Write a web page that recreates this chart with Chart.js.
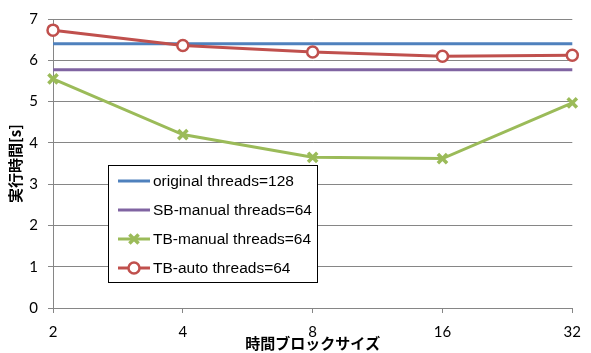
<!DOCTYPE html>
<html>
<head>
<meta charset="utf-8">
<script src="https://cdn.jsdelivr.net/npm/chart.js@4/dist/chart.umd.min.js"></script>
<style>
html,body{margin:0;padding:0;background:#fff;}
#wrap{width:591px;height:353px;position:relative;}
</style>
</head>
<body>
<div id="wrap"><canvas id="c" width="591" height="353"></canvas></div>
<script>
const categories = ['2', '4', '8', '16', '32'];
const originalThreads128 = [6.40, 6.40, 6.40, 6.40, 6.40];
const sbManualThreads64 = [5.77, 5.77, 5.77, 5.77, 5.77];
const tbManualThreads64 = [5.55, 4.20, 3.65, 3.62, 4.97];
const tbAutoThreads64 = [6.73, 6.36, 6.20, 6.10, 6.12];
const yTicks = [0, 1, 2, 3, 4, 5, 6, 7];

const FONT = 'Lato, "Open Sans", sans-serif';
const LFONT = '"Liberation Sans", Arial, sans-serif';
const JFONT = '"Noto Sans CJK JP", sans-serif';

const boxLegend = {
  id: 'boxLegend',
  afterDraw(chart, args, opts) {
    const ctx = chart.ctx;
    const x = opts.x, y = opts.y, w = opts.w, h = opts.h;
    ctx.save();
    ctx.fillStyle = '#fff';
    ctx.fillRect(x, y, w, h);
    ctx.strokeStyle = '#000';
    ctx.lineWidth = 1;
    ctx.strokeRect(x + 0.5, y + 0.5, w, h);
    chart.data.datasets.forEach((ds, i) => {
      const cy = y + opts.firstRow + i * opts.rowGap;
      const lx0 = x + opts.sampleLeft, lx1 = lx0 + opts.sampleLen;
      ctx.strokeStyle = ds.borderColor;
      ctx.lineWidth = ds.borderWidth;
      ctx.beginPath();
      ctx.moveTo(lx0, cy);
      ctx.lineTo(lx1, cy);
      ctx.stroke();
      if (ds.pointRadius > 0) {
        ctx.fillStyle = ds.pointBackgroundColor;
        ctx.strokeStyle = ds.pointBorderColor;
        ctx.lineWidth = ds.pointBorderWidth;
        Chart.helpers.drawPoint(ctx, {
          pointStyle: ds.pointStyle,
          radius: ds.pointRadius,
          borderWidth: ds.pointBorderWidth,
          rotation: 0
        }, (lx0 + lx1) / 2, cy);
      }
      ctx.fillStyle = '#000';
      ctx.font = opts.font;
      ctx.textBaseline = 'middle';
      ctx.textAlign = 'left';
      ctx.fillText(ds.label, lx1 + 3, cy + 1);
    });
    ctx.restore();
  }
};

new Chart(document.getElementById('c'), {
  type: 'line',
  data: {
    labels: categories,
    datasets: [
      { label: 'original threads=128', data: originalThreads128, borderColor: '#4F81BD', backgroundColor: '#4F81BD',
        borderWidth: 3, pointRadius: 0, order: 4 },
      { label: 'SB-manual threads=64', data: sbManualThreads64, borderColor: '#8064A2', backgroundColor: '#8064A2',
        borderWidth: 3, pointRadius: 0, order: 3 },
      { label: 'TB-manual threads=64', data: tbManualThreads64, borderColor: '#9BBB59', backgroundColor: '#9BBB59',
        borderWidth: 3, pointStyle: 'crossRot', pointRadius: 6.5, pointBorderWidth: 3.5,
        pointBorderColor: '#9BBB59', pointBackgroundColor: '#9BBB59', order: 2 },
      { label: 'TB-auto threads=64', data: tbAutoThreads64, borderColor: '#C0504D', backgroundColor: '#C0504D',
        borderWidth: 3, pointStyle: 'circle', pointRadius: 5.5, pointBorderWidth: 2.5,
        pointBorderColor: '#C0504D', pointBackgroundColor: '#ffffff', order: 1 }
    ]
  },
  options: {
    responsive: false,
    animation: false,
    clip: false,
    layout: { padding: { left: 0, right: 10, top: 15, bottom: 0 } },
    plugins: {
      legend: { display: false },
      tooltip: { enabled: false },
      boxLegend: { x: 108, y: 165, w: 209, h: 117, firstRow: 16, rowGap: 29, sampleLeft: 10, sampleLen: 32,
        font: '15.5px ' + LFONT }
    },
    scales: {
      x: {
        type: 'category',
        offset: false,
        grid: { display: true, drawOnChartArea: false, drawTicks: true, tickLength: 5, color: '#868686', lineWidth: 1 },
        border: { display: true, color: '#868686', width: 1 },
        ticks: { color: '#000', font: { family: FONT, size: 15 }, padding: 10, maxRotation: 0, autoSkip: false },
        title: { display: true, text: '時間ブロックサイズ', color: '#000',
          font: { family: JFONT, size: 15, weight: 'bold' }, padding: { top: 0, bottom: 1 } },
        afterFit(s) { s.height = 45; }
      },
      y: {
        min: 0, max: 7,
        afterBuildTicks(s) { s.ticks = yTicks.map(v => ({ value: v })); },
        grid: { display: true, drawTicks: true, tickLength: 5, color: '#868686', lineWidth: 1 },
        border: { display: true, color: '#868686', width: 1 },
        ticks: { color: '#000', font: { family: FONT, size: 15 }, padding: 10 },
        title: { display: true, text: '実行時間[s]', color: '#000',
          font: { family: JFONT, size: 15, weight: 'bold' }, padding: { top: 6, bottom: 0 } },
        afterFit(s) { s.width = 53; }
      }
    }
  },
  plugins: [boxLegend]
});
</script>
</body>
</html>
